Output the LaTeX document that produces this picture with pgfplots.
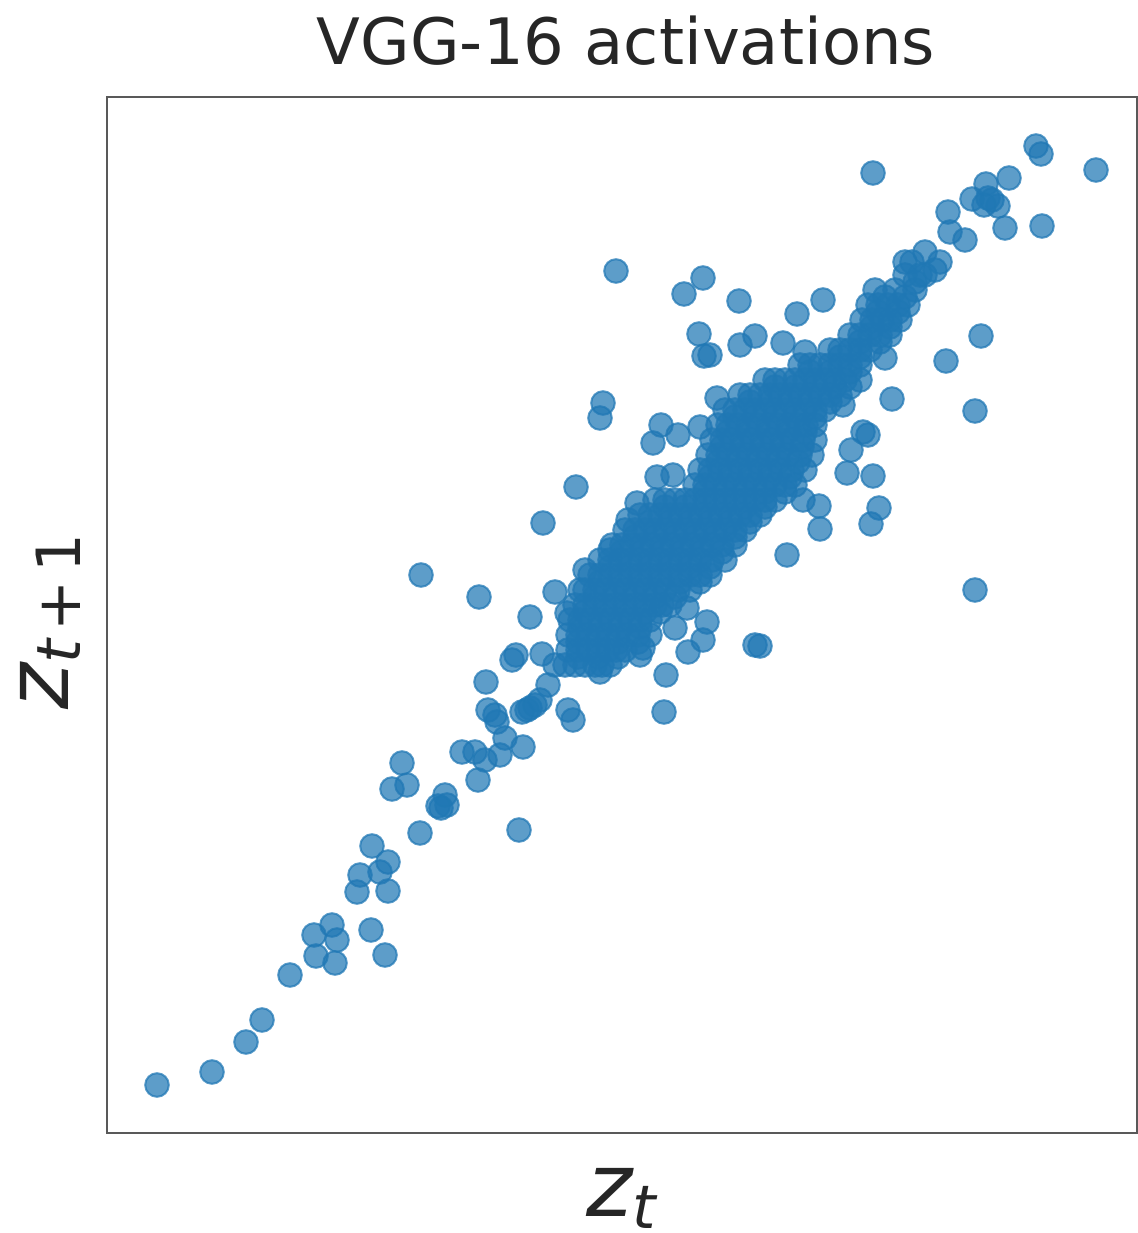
\documentclass[border=0pt]{standalone}
\usepackage{fontspec}
\setmainfont{DejaVu Sans}
\usepackage{pgfplots}
\pgfplotsset{compat=1.18}
\definecolor{mpl}{RGB}{31,119,180}
\pgfplotstableread{
x y
157 1085
212 1072
246 1042
262 1020
290 975
314 935
332 925
337 940
316 956
335 963
371 930
385 955
357 892
388 891
360 875
380 872
388 862
372 846
420 833
519 830
441 808
447 805
445 795
438 806
392 789
407 785
402 763
478 780
462 752
475 752
485 760
500 755
523 747
505 738
497 722
488 710
495 715
486 682
522 712
530 708
540 700
535 705
527 710
548 685
568 710
573 720
664 712
666 675
512 660
516 655
542 654
530 617
479 597
421 575
555 592
585 570
543 523
576 487
603 403
600 418
616 271
684 294
703 278
739 301
823 300
797 314
699 334
740 345
755 336
704 356
710 355
783 343
805 352
873 173
1036 146
1041 154
1096 170
1009 178
986 184
972 199
984 205
992 200
998 206
988 198
1005 228
1042 226
948 212
950 232
965 240
925 252
905 262
912 262
940 262
935 270
920 275
981 336
946 361
892 399
975 411
975 590
873 476
847 473
851 450
879 508
871 524
820 529
819 506
803 500
787 555
755 645
760 646
707 622
703 640
688 652
687 608
675 628
643 648
863 432
868 435
653 443
661 425
678 435
700 427
717 398
657 477
673 475
637 503
628 520
610 550
567 613
580 590
905 275
925 275
875 290
895 290
915 290
868 305
888 305
908 305
862 320
882 320
900 320
850 335
870 335
890 335
830 350
850 350
870 350
885 358
800 365
820 365
840 365
860 365
765 380
785 380
805 380
825 380
845 380
860 380
740 395
760 395
780 395
800 395
820 395
840 395
725 410
745 410
765 410
785 410
805 410
825 410
843 405
718 425
738 425
758 425
778 425
798 425
815 425
712 440
732 440
752 440
772 440
792 440
815 440
708 455
728 455
748 455
768 455
788 455
812 455
700 470
720 470
740 470
760 470
780 470
805 470
695 485
715 485
735 485
755 485
775 485
795 485
655 500
675 500
695 500
715 500
735 500
755 500
775 500
640 515
660 515
680 515
700 515
720 515
740 515
760 515
625 530
645 530
665 530
685 530
705 530
725 530
745 530
612 545
632 545
652 545
672 545
692 545
712 545
735 545
600 560
620 560
640 560
660 560
680 560
700 560
725 560
590 575
610 575
630 575
650 575
670 575
690 575
710 575
585 590
605 590
625 590
645 590
665 590
690 590
575 605
595 605
615 605
635 605
655 605
670 605
570 620
590 620
610 620
630 620
650 620
568 635
588 635
608 635
628 635
650 635
568 650
588 650
608 650
625 650
640 655
555 665
575 665
595 665
610 665
600 672
915 282
885 297
905 297
878 312
898 312
872 327
890 327
860 342
880 342
840 357
860 357
810 372
830 372
850 372
775 387
795 387
815 387
835 387
850 387
750 402
770 402
790 402
810 402
830 402
735 417
755 417
775 417
795 417
815 417
728 432
748 432
768 432
788 432
805 432
722 447
742 447
762 447
782 447
802 447
718 462
738 462
758 462
778 462
798 462
710 477
730 477
750 477
770 477
790 477
705 492
725 492
745 492
765 492
785 492
665 507
685 507
705 507
725 507
745 507
765 507
650 522
670 522
690 522
710 522
730 522
750 522
635 537
655 537
675 537
695 537
715 537
735 537
622 552
642 552
662 552
682 552
702 552
722 552
610 567
630 567
650 567
670 567
690 567
710 567
600 582
620 582
640 582
660 582
680 582
700 582
595 597
615 597
635 597
655 597
675 597
585 612
605 612
625 612
645 612
660 612
580 627
600 627
620 627
640 627
578 642
598 642
618 642
638 642
578 657
598 657
618 657
878 305
898 305
872 320
890 320
860 335
880 335
840 350
860 350
810 365
830 365
850 365
775 380
795 380
815 380
835 380
750 395
770 395
790 395
810 395
830 395
735 410
755 410
775 410
795 410
815 410
728 425
748 425
768 425
788 425
806 425
722 440
742 440
762 440
782 440
803 440
718 455
738 455
758 455
778 455
800 455
710 470
730 470
750 470
770 470
792 470
705 485
725 485
745 485
765 485
785 485
665 500
685 500
705 500
725 500
745 500
765 500
650 515
670 515
690 515
710 515
730 515
750 515
635 530
655 530
675 530
695 530
715 530
735 530
622 545
642 545
662 545
682 545
702 545
722 545
610 560
630 560
650 560
670 560
690 560
712 560
600 575
620 575
640 575
660 575
680 575
700 575
595 590
615 590
635 590
655 590
678 590
585 605
605 605
625 605
645 605
662 605
580 620
600 620
620 620
640 620
578 635
598 635
618 635
638 635
578 650
598 650
616 650
565 665
585 665
602 665
}\datatable
\begin{document}
\begin{tikzpicture}[x=1pt,y=1pt]
\useasboundingbox (0,0) rectangle (568.5,616.5);
\begin{axis}[
  at={(53.5pt,50pt)},anchor=south west,
  width=515pt,height=518pt,scale only axis,
  xmin=107,xmax=1137,ymin=97,ymax=1133,y dir=reverse,
  xtick=\empty,ytick=\empty,clip=false,
  axis line style={black!65,line width=1.3pt},
]
\addplot[only marks,mark=*,mark size=5.9pt,color=mpl,
  mark options={draw=mpl,fill=mpl,line width=1pt,fill opacity=0.72,draw opacity=0.72}]
  table[x=x,y=y]{\datatable};
\end{axis}
\node[anchor=center,text=black!85,font=\fontsize{32}{36}\selectfont] at (313,596) {VGG-16 activations};
\node[anchor=base west,inner sep=0pt,text=black!85,font=\fontsize{44}{48}\selectfont\itshape] at (293,8.5) {z\raisebox{-6.5pt}{\fontsize{30}{34}\selectfont t}};
\node[anchor=base west,inner sep=0pt,rotate=90,text=black!85,font=\fontsize{44}{48}\selectfont\itshape] at (34,261.5) {z\raisebox{-6pt}{\fontsize{30.5}{34}\selectfont t\hspace{4pt}{\upshape +\hspace{4pt}1}}};
\end{tikzpicture}
\end{document}
